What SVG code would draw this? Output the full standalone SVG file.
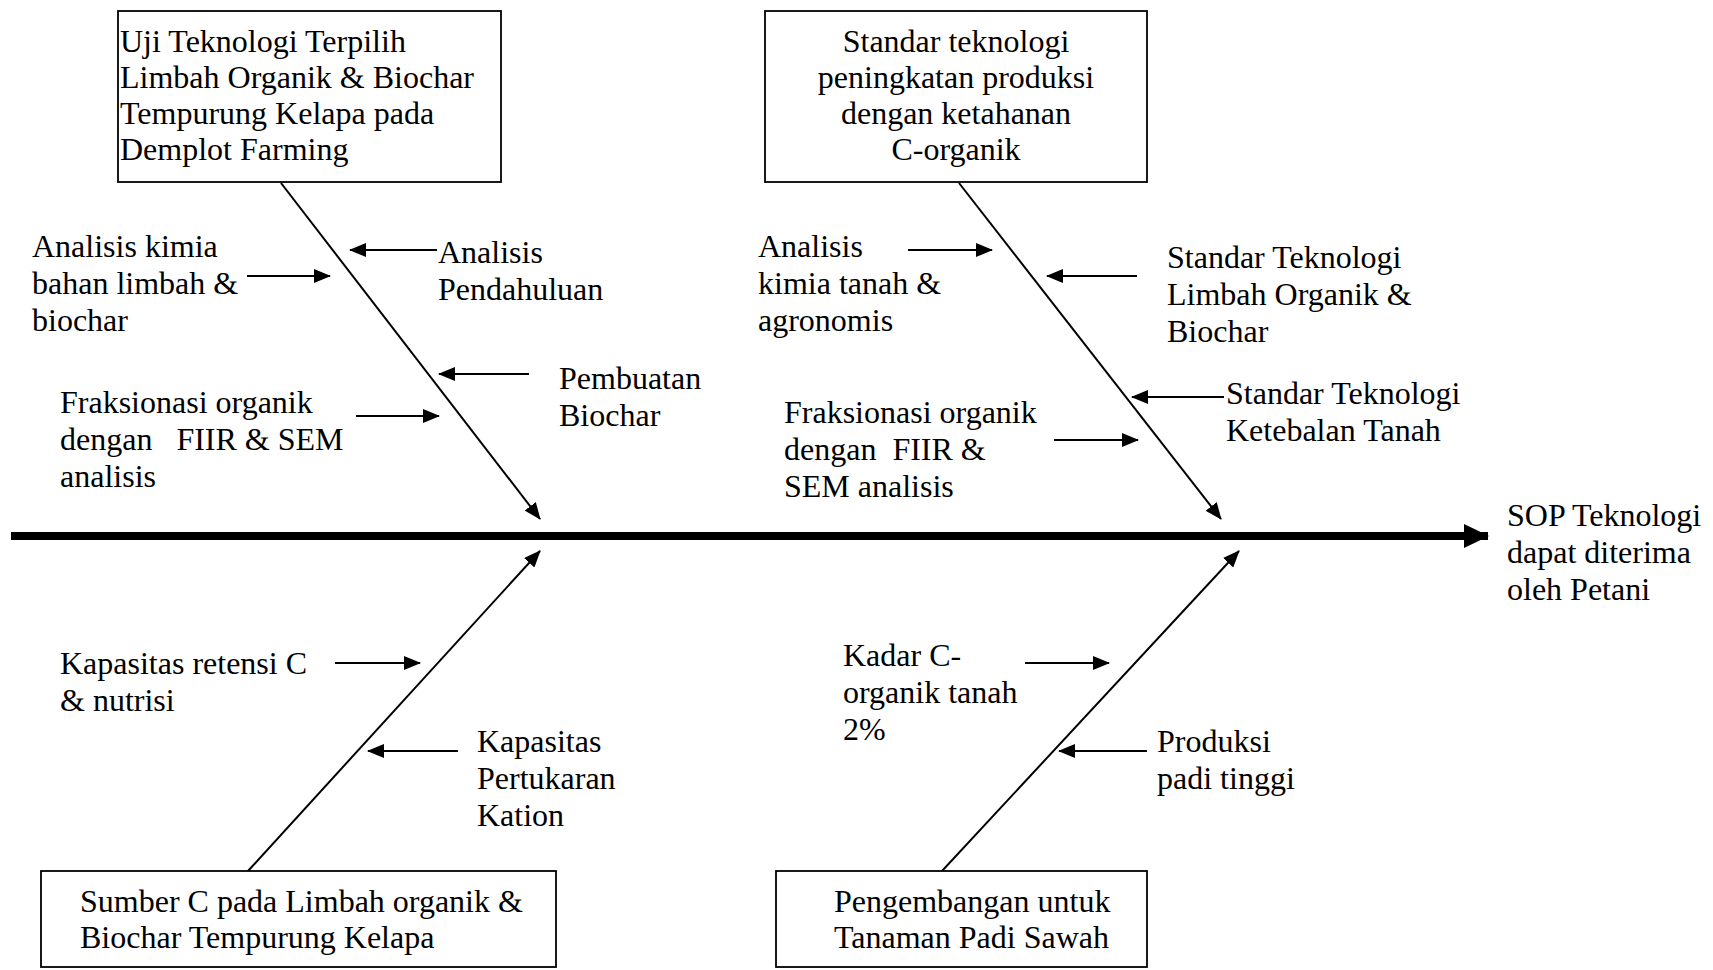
<svg xmlns="http://www.w3.org/2000/svg" width="1713" height="970" viewBox="0 0 1713 970">
<style>
text { font-family: "Liberation Serif", "Times New Roman", serif; font-size: 32px; fill: #000; white-space: pre; }
.box { fill: #fff; stroke: #000; stroke-width: 1.8; }
.bone { stroke: #000; stroke-width: 2; fill: none; marker-end: url(#ah); }
.sub { stroke: #000; stroke-width: 2.2; fill: none; marker-end: url(#ah); }
.mid { text-anchor: middle; }
</style>
<defs>
<marker id="ah" markerWidth="17" markerHeight="14" refX="16" refY="7" orient="auto" markerUnits="userSpaceOnUse">
<path d="M0,0 L17,7 L0,14 Z" fill="#000"/>
</marker>
<marker id="big" markerWidth="25" markerHeight="24" refX="24" refY="12" orient="auto" markerUnits="userSpaceOnUse">
<path d="M0,0 L25,12 L0,24 Z" fill="#000"/>
</marker>
</defs>
<rect width="1713" height="970" fill="#fff"/>

<g id="connectors">
<line x1="11" y1="536" x2="1488" y2="536" stroke="#000" stroke-width="8" marker-end="url(#big)"/>
<line class="bone" x1="281" y1="183" x2="540" y2="519"/>
<line class="bone" x1="959" y1="183" x2="1221" y2="519"/>
<line class="bone" x1="248" y1="871" x2="540" y2="551"/>
<line class="bone" x1="942" y1="871" x2="1239" y2="551"/>
<line class="sub" x1="247" y1="276" x2="330" y2="276"/>
<line class="sub" x1="437" y1="250" x2="350" y2="250"/>
<line class="sub" x1="529" y1="374" x2="439" y2="374"/>
<line class="sub" x1="356" y1="416" x2="439" y2="416"/>
<line class="sub" x1="908" y1="250" x2="992" y2="250"/>
<line class="sub" x1="1137" y1="276" x2="1047" y2="276"/>
<line class="sub" x1="1224" y1="397" x2="1132" y2="397"/>
<line class="sub" x1="1054" y1="440" x2="1138" y2="440"/>
<line class="sub" x1="335" y1="663" x2="420" y2="663"/>
<line class="sub" x1="458" y1="751" x2="368" y2="751"/>
<line class="sub" x1="1025" y1="663" x2="1109" y2="663"/>
<line class="sub" x1="1147" y1="751" x2="1059" y2="751"/>
</g>

<g id="box-uji">
<rect class="box" x="118" y="11" width="383" height="171"/>
<text x="120" y="52">Uji Teknologi Terpilih</text>
<text x="120" y="88">Limbah Organik &amp; Biochar</text>
<text x="120" y="124">Tempurung Kelapa pada</text>
<text x="120" y="160">Demplot Farming</text>
</g>

<g id="box-standar">
<rect class="box" x="765" y="11" width="382" height="171"/>
<text class="mid" x="956" y="52">Standar teknologi</text>
<text class="mid" x="956" y="88">peningkatan produksi</text>
<text class="mid" x="956" y="124">dengan ketahanan</text>
<text class="mid" x="956" y="160">C-organik</text>
</g>

<g id="box-sumber">
<rect class="box" x="41" y="871" width="515" height="96"/>
<text x="80" y="912">Sumber C pada Limbah organik &amp;</text>
<text x="80" y="948">Biochar Tempurung Kelapa</text>
</g>

<g id="box-pengembangan">
<rect class="box" x="776" y="871" width="371" height="96"/>
<text x="834" y="912">Pengembangan untuk</text>
<text x="834" y="948">Tanaman Padi Sawah</text>
</g>

<g id="label-sop">
<text x="1507" y="526">SOP Teknologi</text>
<text x="1507" y="563">dapat diterima</text>
<text x="1507" y="600">oleh Petani</text>
</g>

<g id="label-analisis-kimia">
<text x="32" y="257">Analisis kimia</text>
<text x="32" y="294">bahan limbah &amp;</text>
<text x="32" y="331">biochar</text>
</g>

<g id="label-analisis-pendahuluan">
<text x="438" y="263">Analisis</text>
<text x="438" y="300">Pendahuluan</text>
</g>

<g id="label-pembuatan">
<text x="559" y="389">Pembuatan</text>
<text x="559" y="426">Biochar</text>
</g>

<g id="label-fraksionasi-1">
<text x="60" y="413">Fraksionasi organik</text>
<text x="60" y="450">dengan   FIIR &amp; SEM</text>
<text x="60" y="487">analisis</text>
</g>

<g id="label-analisis-tanah">
<text x="758" y="257">Analisis</text>
<text x="758" y="294">kimia tanah &amp;</text>
<text x="758" y="331">agronomis</text>
</g>

<g id="label-standar-limbah">
<text x="1167" y="268">Standar Teknologi</text>
<text x="1167" y="305">Limbah Organik &amp;</text>
<text x="1167" y="342">Biochar</text>
</g>

<g id="label-standar-ketebalan">
<text x="1226" y="404">Standar Teknologi</text>
<text x="1226" y="441">Ketebalan Tanah</text>
</g>

<g id="label-fraksionasi-2">
<text x="784" y="423">Fraksionasi organik</text>
<text x="784" y="460">dengan  FIIR &amp;</text>
<text x="784" y="497">SEM analisis</text>
</g>

<g id="label-kapasitas-retensi">
<text x="60" y="674">Kapasitas retensi C</text>
<text x="60" y="711">&amp; nutrisi</text>
</g>

<g id="label-kapasitas-pertukaran">
<text x="477" y="752">Kapasitas</text>
<text x="477" y="789">Pertukaran</text>
<text x="477" y="826">Kation</text>
</g>

<g id="label-kadar">
<text x="843" y="666">Kadar C-</text>
<text x="843" y="703">organik tanah</text>
<text x="843" y="740">2%</text>
</g>

<g id="label-produksi">
<text x="1157" y="752">Produksi</text>
<text x="1157" y="789">padi tinggi</text>
</g>
</svg>
